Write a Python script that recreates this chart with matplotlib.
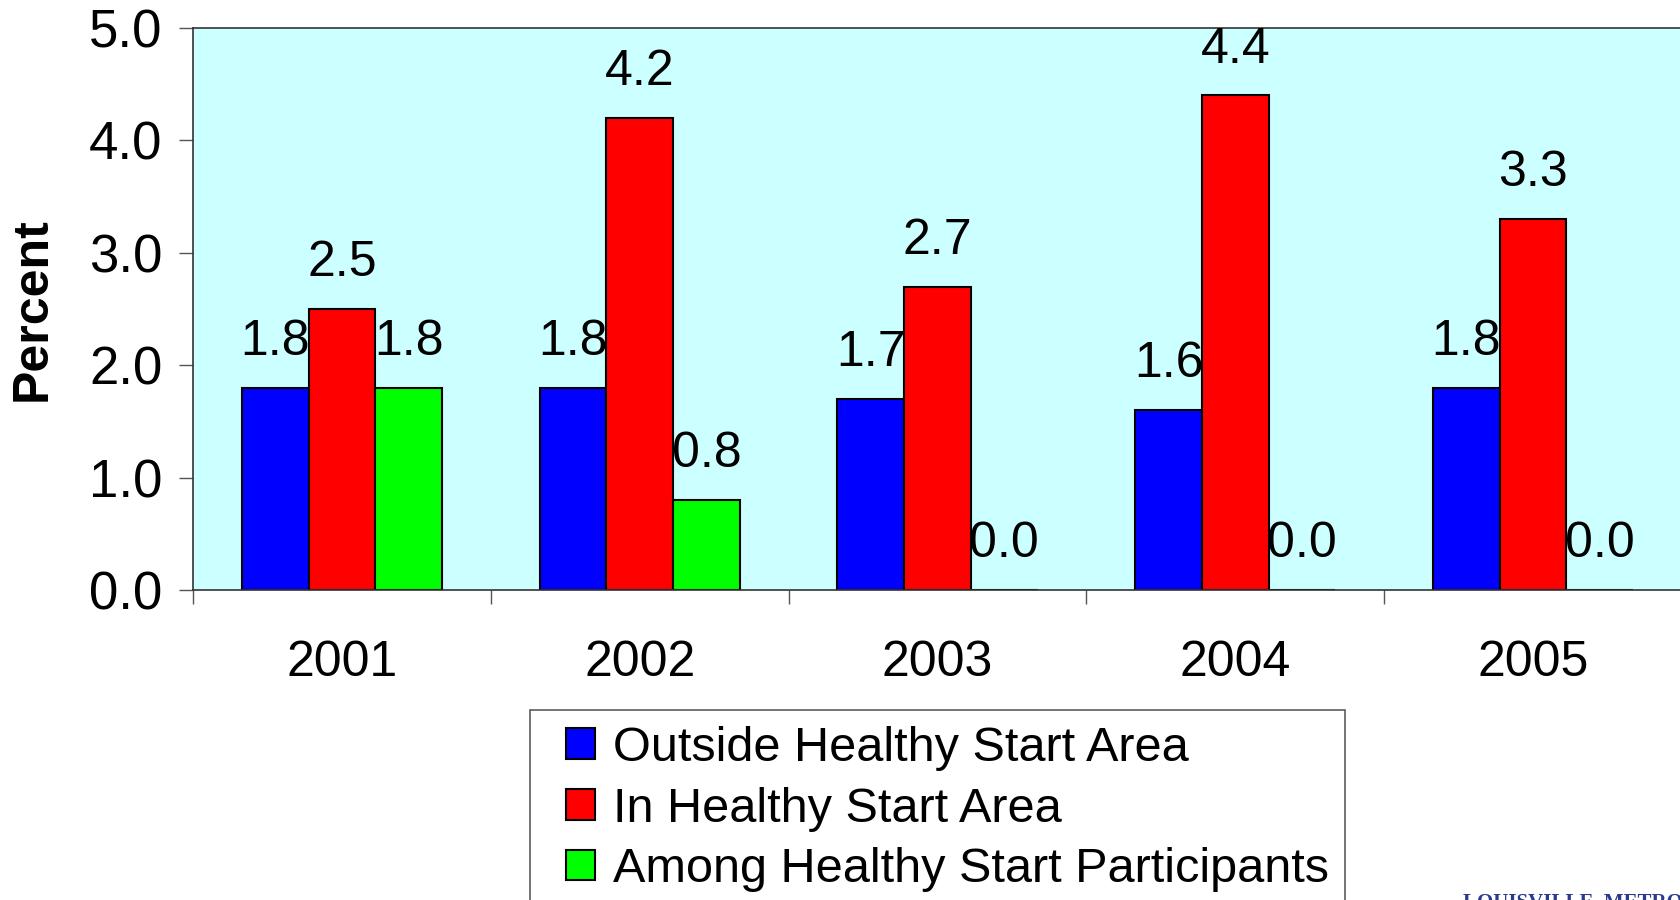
import matplotlib.pyplot as plt
from matplotlib.legend_handler import HandlerPatch
from matplotlib.container import BarContainer
import numpy as np

# data
years = ["2001", "2002", "2003", "2004", "2005"]
outside_area = [1.8, 1.8, 1.7, 1.6, 1.8]
in_area = [2.5, 4.2, 2.7, 4.4, 3.3]
participants = [1.8, 0.8, 0.0, 0.0, 0.0]
series_names = ["Outside Healthy Start Area", "In Healthy Start Area",
                "Among Healthy Start Participants"]
colors = ["#0000FF", "#FF0000", "#00FF00"]

plt.rcParams['font.family'] = ['Liberation Sans', 'DejaVu Sans']

fig = plt.figure(figsize=(16.8, 9), dpi=100)
ax = fig.add_axes([0.1149, 0.3444, 0.8863, 0.6245])
ax.set_facecolor("#CCFFFF")

index = np.arange(len(years))
width = 0.224
all_series = [outside_area, in_area, participants]
for i, vals in enumerate(all_series):
    pos = index + (i - 1) * width
    ax.bar(pos, vals, width, color=colors[i], edgecolor="black",
           linewidth=1.5, label=series_names[i], zorder=2)
    for x, v in zip(pos, vals):
        ax.annotate("%.1f" % v, (x, v), xytext=(0, 33), textcoords="offset points",
                    ha="center", va="center", fontsize=36)

ax.set_xlim(-0.5, 4.5)
ax.set_ylim(0, 5)
ax.set_yticks(np.arange(0, 5.1, 1.0))
ax.set_yticklabels(["%.1f" % t for t in np.arange(0, 5.1, 1.0)])
ax.tick_params(axis="y", labelsize=38, length=10, width=1, pad=12, color="#555555")

# tick marks between categories, labels at category centers
ax.set_xticks(index - 0.5)
ax.set_xticklabels([])
ax.set_xticks(index, minor=True)
ax.set_xticklabels(years, minor=True)
ax.tick_params(axis="x", which="major", length=10, width=1, color="#555555")
ax.tick_params(axis="x", which="minor", length=0, labelsize=36, pad=36)

for s in ["left", "top", "bottom"]:
    ax.spines[s].set_color("#333333")
    ax.spines[s].set_linewidth(1.2)
ax.spines["right"].set_visible(False)

ax.set_ylabel("Percent", fontsize=36, fontweight="bold")
ax.yaxis.set_label_coords(-0.092, 0.5)


def from_first_bar(handle, orig):
    handle.update_from(orig.patches[0])


leg = fig.legend(loc="upper left", bbox_to_anchor=(0.3155, 0.2111), fontsize=35,
                 frameon=True, fancybox=False, edgecolor="#333333",
                 borderaxespad=0, handlelength=1.0, handleheight=0.6,
                 handletextpad=0.38, labelspacing=0.32, borderpad=0.33,
                 handler_map={BarContainer: HandlerPatch(xpad=0.42,
                                                         update_func=from_first_bar)})
leg.get_frame().set_linewidth(1.2)
for h in leg.legend_handles:
    h.set_linewidth(1.5)

fig.text(0.871, 0.0078, "LOUISVILLE  METRO", fontsize=15, family="Liberation Serif",
         fontweight="bold", color="#2B3A8C", ha="left", va="top")

plt.savefig("out.png", dpi=100)
